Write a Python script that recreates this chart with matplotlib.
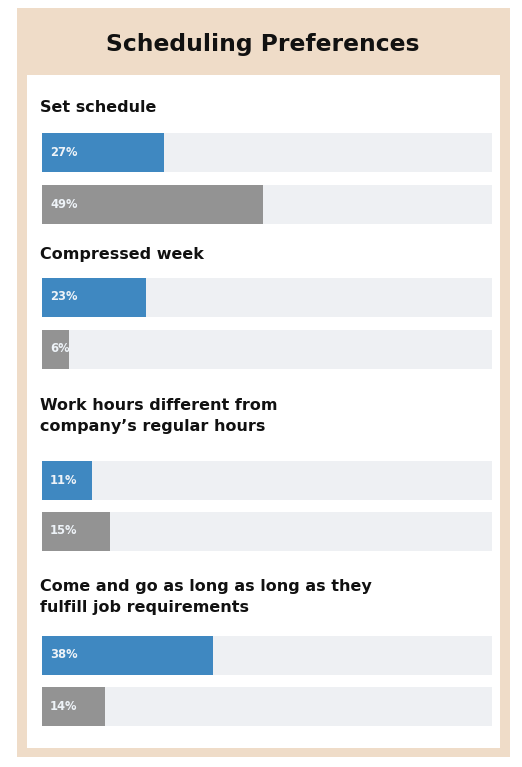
import matplotlib.pyplot as plt
from matplotlib.patches import Rectangle

# Дані опитування
groups = ['Set schedule',
          'Compressed week',
          'Work hours different from\ncompany\u2019s regular hours',
          'Come and go as long as long as they\nfulfill job requirements']
prefer = [27, 23, 11, 38]
current = [49, 6, 15, 14]
row_labels = ['Would prefer it', 'Currently have It']

BLUE = '#3f88c1'
GREY = '#939393'
TRACK = '#eef0f3'
BEIGE = '#efdcc8'

W, H = 522, 767
fig = plt.figure(figsize=(W / 100, H / 100), dpi=100)
fig.patch.set_facecolor('white')

# Фон: бежева рамка та білий блок у пікселях
bg = fig.add_axes([0, 0, 1, 1])
bg.set_xlim(0, W)
bg.set_ylim(H, 0)
bg.axis('off')
bg.add_patch(Rectangle((17, 8), 493, 749, color=BEIGE, lw=0))
bg.add_patch(Rectangle((27, 75), 473, 673, color='white', lw=0))
bg.text(263, 45, 'Scheduling Preferences', ha='center', va='center',
        fontsize=16.8, fontweight='bold', color='#111111')

# Вісь для смуг: x у відсотках (0..100 -> 42..492 px), y у пікселях
x0, x1 = 42, 492
ax = fig.add_axes([x0 / W, 0, (x1 - x0) / W, 1])
ax.set_xlim(0, 100)
ax.set_ylim(H, 0)
ax.axis('off')

head_y = [107, 254, 416, 597]
bar_y = [(152, 204), (297, 349), (480, 531), (655, 706)]
bar_h = 39
label_x = [340, 340, 337, 343]

for i, g in enumerate(groups):
    bg.text(40, head_y[i], g, ha='left', va='center', fontsize=11.5,
            fontweight='bold', color='#111111', linespacing=1.45)
    for val, yc, col, lab in zip((prefer[i], current[i]), bar_y[i],
                                 (BLUE, GREY), row_labels):
        ax.barh(yc, 100.7, height=bar_h, left=0, color=TRACK, lw=0)
        ax.barh(yc, val, height=bar_h, left=0, color=col, lw=0)
        ax.text(1.8, yc, f'{val}%', ha='left', va='center', fontsize=8.3,
                fontweight='bold', color='#eef3f8')
        bg.text(label_x[i], yc, lab, ha='left', va='center', fontsize=9.5,
                color='#1a1a1a')

fig.savefig('out.png', dpi=100, facecolor=fig.get_facecolor())
